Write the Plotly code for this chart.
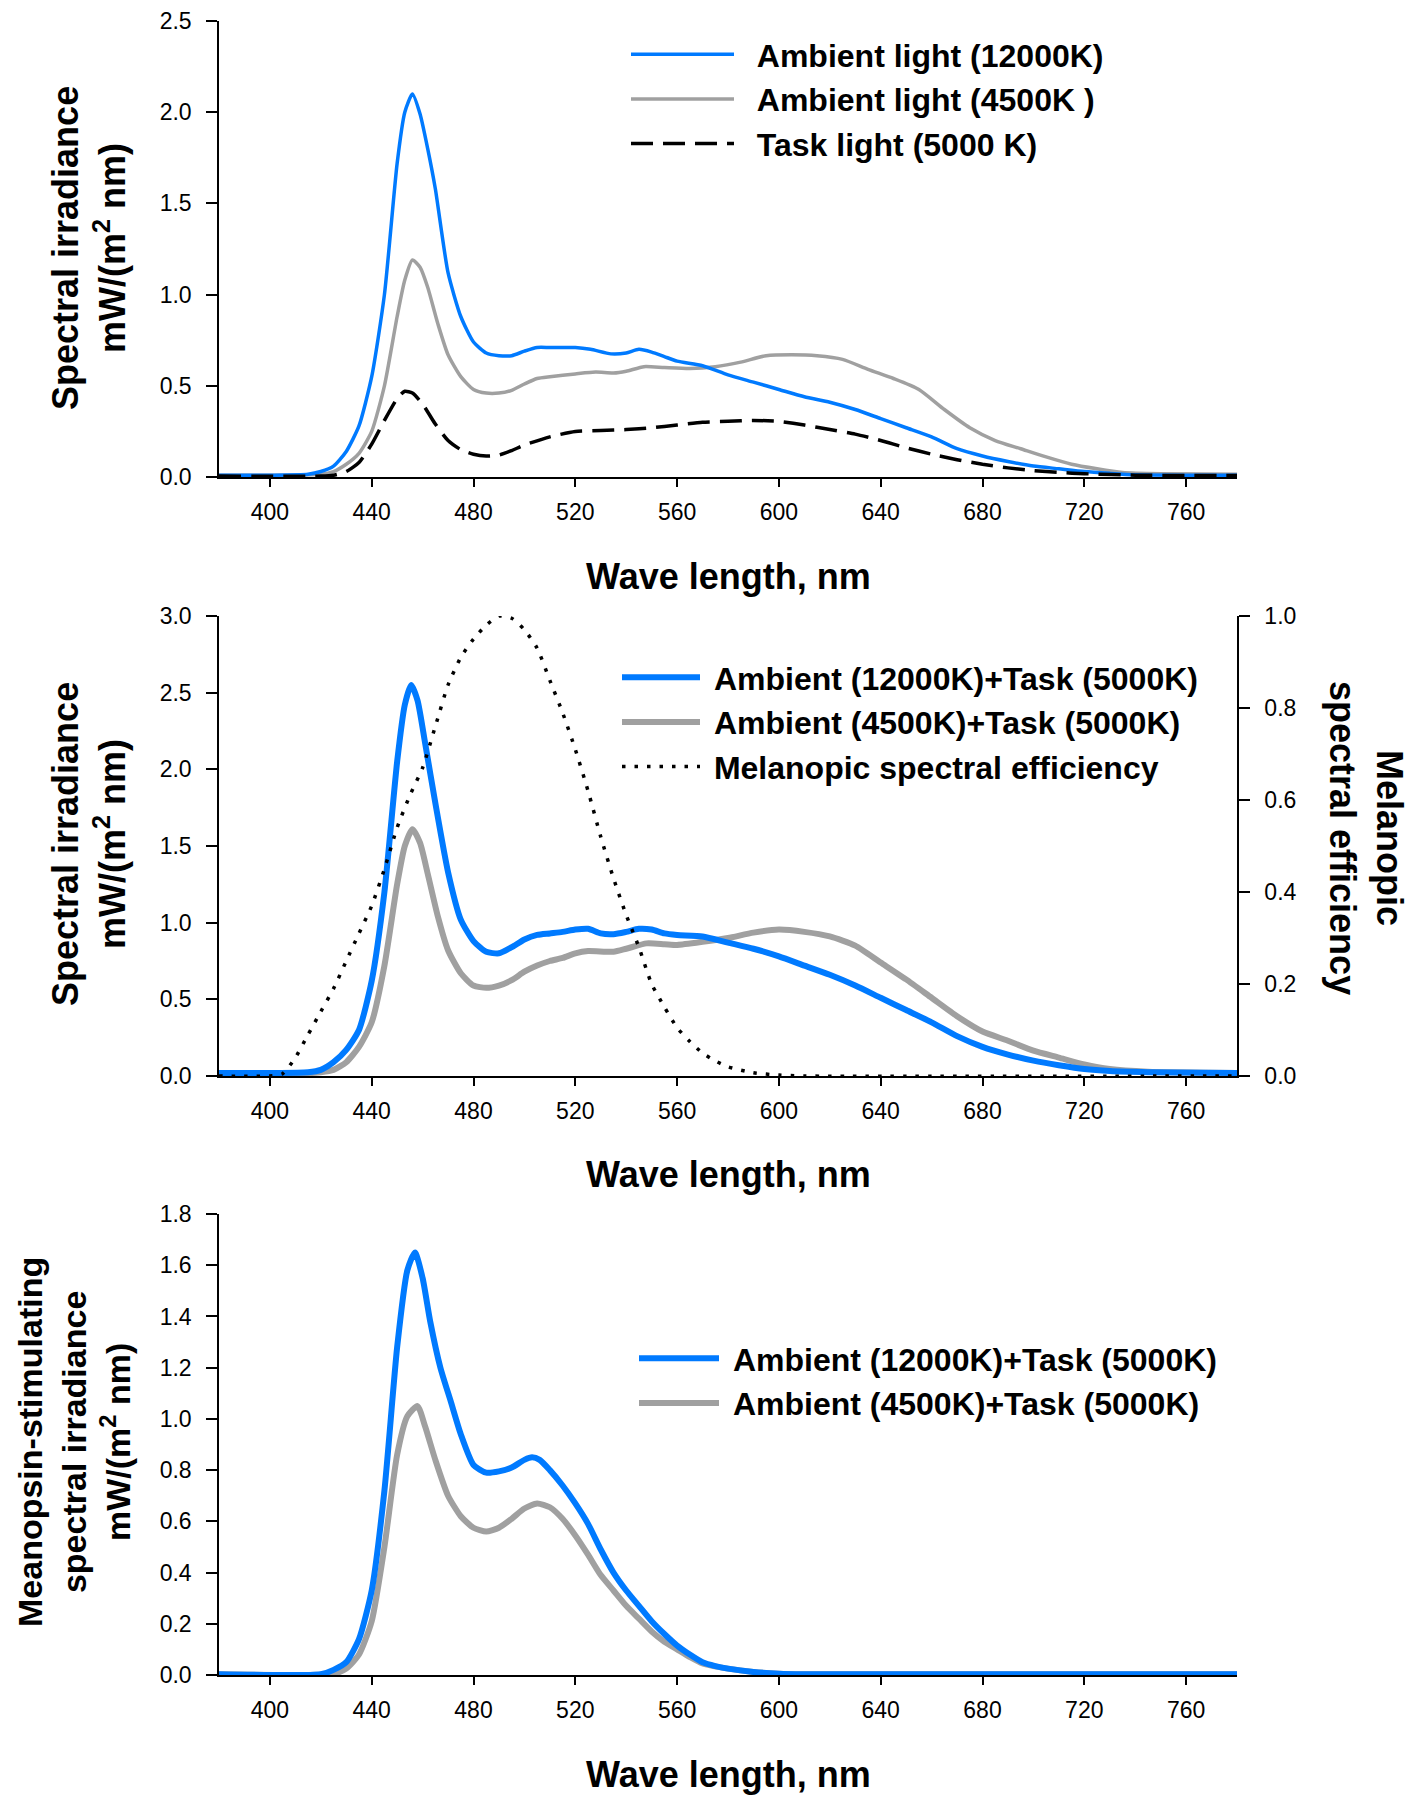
import plotly.graph_objects as go

# ---------------- data ----------------
# Panel 1: individual light sources, mW/(m2 nm)
wl_amb12000 = [380, 400, 415, 420, 425, 430, 435, 440, 445, 450, 453, 456, 459, 462, 465, 470, 475, 480, 485,
               490, 495, 500, 505, 510, 520, 526, 534, 540, 545, 550, 555, 560, 570, 580, 590, 600, 610, 620,
               630, 640, 650, 660, 670, 680, 690, 700, 710, 720, 730, 740, 760, 780]
amb12000 = [0.01, 0.01, 0.015, 0.03, 0.06, 0.14, 0.28, 0.55, 1.0, 1.72, 2.0, 2.10, 1.99, 1.80, 1.58, 1.12, 0.88,
            0.74, 0.68, 0.665, 0.665, 0.69, 0.71, 0.71, 0.71, 0.70, 0.675, 0.68, 0.70, 0.685, 0.66, 0.635, 0.61,
            0.56, 0.52, 0.48, 0.44, 0.41, 0.37, 0.32, 0.27, 0.22, 0.155, 0.115, 0.085, 0.06, 0.045, 0.03, 0.02,
            0.012, 0.01, 0.01]

wl_amb4500 = [380, 400, 420, 425, 430, 435, 440, 445, 450, 453, 456, 459, 462, 466, 470, 475, 480, 485, 490, 495,
              500, 505, 510, 520, 528, 535, 540, 547, 555, 565, 575, 585, 595, 605, 615, 625, 635, 645, 655, 665,
              675, 685, 695, 705, 715, 725, 735, 750, 780]
amb4500 = [0.01, 0.01, 0.015, 0.03, 0.07, 0.13, 0.25, 0.50, 0.88, 1.08, 1.19, 1.15, 1.04, 0.84, 0.67, 0.55, 0.48,
           0.46, 0.46, 0.475, 0.51, 0.54, 0.55, 0.565, 0.575, 0.57, 0.58, 0.605, 0.60, 0.595, 0.605, 0.63, 0.665,
           0.67, 0.665, 0.645, 0.59, 0.54, 0.48, 0.37, 0.27, 0.20, 0.155, 0.11, 0.07, 0.045, 0.025, 0.018, 0.015]

wl_task5000 = [380, 420, 425, 430, 435, 440, 445, 450, 453, 456, 460, 465, 470, 475, 480, 485, 490, 495, 500, 510,
               520, 530, 540, 550, 560, 570, 580, 590, 600, 610, 620, 630, 640, 650, 660, 670, 680, 690, 700, 710,
               720, 740, 780]
task5000 = [0.005, 0.005, 0.01, 0.03, 0.08, 0.18, 0.31, 0.43, 0.47, 0.46, 0.40, 0.29, 0.20, 0.15, 0.125, 0.115,
            0.12, 0.145, 0.175, 0.22, 0.25, 0.255, 0.26, 0.27, 0.285, 0.30, 0.305, 0.31, 0.305, 0.285, 0.26, 0.235,
            0.20, 0.16, 0.125, 0.095, 0.07, 0.05, 0.035, 0.025, 0.018, 0.01, 0.008]

# Panel 2: combined lighting, mW/(m2 nm), and melanopic efficiency (0-1)
wl_sum12000 = [380, 400, 415, 420, 425, 430, 435, 440, 445, 450, 453, 455.5, 458, 461, 465, 470, 475, 480, 485,
               490, 495, 500, 505, 510, 515, 520, 525, 530, 535, 540, 545, 550, 555, 560, 570, 580, 590, 600, 610,
               620, 630, 640, 650, 660, 670, 680, 690, 700, 710, 720, 730, 745, 780]
sum12000 = [0.02, 0.02, 0.025, 0.04, 0.09, 0.17, 0.30, 0.62, 1.20, 2.05, 2.42, 2.55, 2.45, 2.17, 1.78, 1.33, 1.02,
            0.88, 0.81, 0.80, 0.84, 0.89, 0.92, 0.93, 0.94, 0.955, 0.96, 0.93, 0.925, 0.94, 0.96, 0.955, 0.93, 0.92,
            0.91, 0.87, 0.83, 0.78, 0.72, 0.66, 0.59, 0.51, 0.43, 0.35, 0.26, 0.19, 0.14, 0.10, 0.07, 0.045, 0.032,
            0.025, 0.02]

wl_sum4500 = [380, 415, 420, 425, 430, 435, 440, 445, 450, 453, 456, 459, 462, 466, 470, 475, 480, 485, 490, 495,
              500, 505, 510, 515, 520, 525, 535, 540, 548, 555, 560, 570, 580, 590, 600, 610, 620, 630, 640, 650,
              660, 670, 680, 690, 700, 710, 720, 730, 745, 780]
sum4500 = [0.02, 0.02, 0.025, 0.04, 0.09, 0.19, 0.35, 0.72, 1.25, 1.50, 1.61, 1.52, 1.32, 1.04, 0.82, 0.67, 0.59,
           0.575, 0.59, 0.625, 0.68, 0.72, 0.75, 0.77, 0.80, 0.815, 0.81, 0.83, 0.865, 0.86, 0.855, 0.875, 0.90,
           0.935, 0.955, 0.94, 0.91, 0.85, 0.74, 0.63, 0.51, 0.39, 0.29, 0.23, 0.165, 0.12, 0.075, 0.045, 0.028,
           0.02]

wl_melanopic = [380, 400, 405, 410, 415, 420, 425, 430, 435, 440, 445, 450, 455, 460, 465, 470, 475, 480, 485, 490,
                495, 500, 505, 510, 515, 520, 525, 530, 535, 540, 545, 550, 555, 560, 565, 570, 575, 580, 590, 600,
                610, 780]
melanopic = [0, 0, 0.005, 0.04, 0.09, 0.14, 0.19, 0.25, 0.31, 0.37, 0.45, 0.54, 0.61, 0.67, 0.76, 0.85, 0.91,
             0.95, 0.98, 1.0, 0.995, 0.97, 0.93, 0.86, 0.79, 0.71, 0.62, 0.52, 0.43, 0.35, 0.28, 0.20, 0.15, 0.105,
             0.075, 0.05, 0.033, 0.02, 0.007, 0.002, 0, 0]

# Panel 3: melanopsin-stimulating irradiance, mW/(m2 nm)
wl_mel12000 = [380, 420, 425, 430, 435, 440, 445, 450, 454, 457, 460, 463, 467, 471, 475, 480, 485, 490, 495, 500,
               503, 506, 510, 515, 520, 525, 530, 535, 540, 545, 550, 555, 560, 565, 570, 575, 580, 590, 600, 610,
               780]
mel12000 = [0.003, 0.003, 0.02, 0.05, 0.14, 0.33, 0.72, 1.28, 1.58, 1.65, 1.55, 1.38, 1.20, 1.07, 0.94, 0.82, 0.79,
            0.795, 0.81, 0.84, 0.85, 0.84, 0.80, 0.74, 0.67, 0.59, 0.49, 0.40, 0.33, 0.27, 0.21, 0.16, 0.115, 0.08,
            0.05, 0.035, 0.025, 0.012, 0.005, 0.003, 0.003]

wl_mel4500 = [380, 425, 430, 435, 440, 445, 450, 454, 458, 461, 465, 470, 475, 480, 485, 490, 495, 500, 505, 510,
              515, 520, 525, 530, 535, 540, 545, 550, 555, 560, 565, 570, 580, 590, 600, 610, 780]
mel4500 = [0.003, 0.005, 0.025, 0.08, 0.21, 0.50, 0.86, 1.01, 1.05, 0.97, 0.84, 0.70, 0.62, 0.575, 0.56, 0.575,
           0.61, 0.65, 0.67, 0.655, 0.61, 0.545, 0.47, 0.39, 0.33, 0.27, 0.22, 0.17, 0.13, 0.10, 0.07, 0.045, 0.025,
           0.012, 0.005, 0.003, 0.003]

x_ticks = [400, 440, 480, 520, 560, 600, 640, 680, 720, 760]

# ---------------- styling ----------------
PAGE_OFFSET = 8          # default body margin of the html page
W, H = 1418 - 2 * PAGE_OFFSET, 1805 - 2 * PAGE_OFFSET
BLUE = "rgb(0,122,255)"
GRAY = "rgb(160,160,160)"
FONT = "Liberation Sans, Arial, sans-serif"
NB = "\u00a0"


def px_x(p):
    """page pixel -> paper fraction (x)"""
    return (p - PAGE_OFFSET) / W


def px_y(p):
    """page pixel -> paper fraction (y)"""
    return 1 - (p - PAGE_OFFSET) / H


xdom = [px_x(219), px_x(1237)]
dom1 = [px_y(477), px_y(21)]
dom2 = [px_y(1076), px_y(616)]
dom3 = [px_y(1675), px_y(1214)]

fig = go.Figure()

# Panel 1
fig.add_trace(go.Scatter(x=wl_amb4500, y=amb4500, mode="lines", name=NB * 2 + "Ambient light (4500K )",
                         line=dict(color=GRAY, width=3.5, shape="spline", smoothing=0.6),
                         xaxis="x", yaxis="y", legend="legend", legendrank=2))
fig.add_trace(go.Scatter(x=wl_amb12000, y=amb12000, mode="lines", name=NB * 2 + "Ambient light (12000K)",
                         line=dict(color=BLUE, width=3.5, shape="spline", smoothing=0.6),
                         xaxis="x", yaxis="y", legend="legend", legendrank=1))
fig.add_trace(go.Scatter(x=wl_task5000, y=task5000, mode="lines", name=NB * 2 + "Task light (5000 K)",
                         line=dict(color="black", width=3.5, dash="22px,10px", shape="spline", smoothing=0.6),
                         xaxis="x", yaxis="y", legend="legend", legendrank=3))

# Panel 2
fig.add_trace(go.Scatter(x=wl_sum4500, y=sum4500, mode="lines", name=NB + "Ambient (4500K)+Task (5000K)",
                         line=dict(color=GRAY, width=6, shape="spline", smoothing=0.6),
                         xaxis="x2", yaxis="y2", legend="legend2", legendrank=2))
fig.add_trace(go.Scatter(x=wl_sum12000, y=sum12000, mode="lines", name=NB + "Ambient (12000K)+Task (5000K)",
                         line=dict(color=BLUE, width=6, shape="spline", smoothing=0.6),
                         xaxis="x2", yaxis="y2", legend="legend2", legendrank=1))
fig.add_trace(go.Scatter(x=wl_melanopic, y=melanopic, mode="lines", name=NB + "Melanopic spectral efficiency",
                         line=dict(color="black", width=3.5, dash="3.5px,9px", shape="spline", smoothing=0.6),
                         xaxis="x2", yaxis="y3", legend="legend2", legendrank=3))

# Panel 3
fig.add_trace(go.Scatter(x=wl_mel4500, y=mel4500, mode="lines", name=NB + "Ambient (4500K)+Task (5000K)",
                         line=dict(color=GRAY, width=6, shape="spline", smoothing=0.6),
                         xaxis="x3", yaxis="y4", legend="legend3", legendrank=2))
fig.add_trace(go.Scatter(x=wl_mel12000, y=mel12000, mode="lines", name=NB + "Ambient (12000K)+Task (5000K)",
                         line=dict(color=BLUE, width=6, shape="spline", smoothing=0.6),
                         xaxis="x3", yaxis="y4", legend="legend3", legendrank=1))

tickfont = dict(family=FONT, size=23, color="black")
axis_common = dict(showline=True, linecolor="black", linewidth=1.5, showgrid=False, zeroline=False,
                   ticks="outside", tickcolor="black", tickwidth=1.5, tickfont=tickfont, automargin=False,
                   ticklabeloverflow="allow")

xcommon = dict(axis_common, domain=xdom, range=[380, 780], tickvals=x_ticks, ticklen=8,
               ticklabelstandoff=6)
ycommon = dict(axis_common, tickformat=".1f", ticklen=11, ticklabelstandoff=10)

legfont = dict(family=FONT, size=32, color="black", weight="bold")
legcommon = dict(font=legfont, bgcolor="rgba(0,0,0,0)", borderwidth=0, xanchor="left", yanchor="top",
                 traceorder="normal", itemclick=False)

fig.update_layout(
    width=W, height=H,
    margin=dict(l=0, r=0, t=0, b=0, autoexpand=False),
    paper_bgcolor="white", plot_bgcolor="white",
    showlegend=True,
    xaxis=dict(xcommon, anchor="y"),
    yaxis=dict(ycommon, domain=dom1, anchor="x", range=[0, 2.5], dtick=0.5),
    xaxis2=dict(xcommon, anchor="y2"),
    yaxis2=dict(ycommon, domain=dom2, anchor="x2", range=[0, 3.0], dtick=0.5),
    yaxis3=dict(ycommon, domain=dom2, anchor="x2", overlaying="y2", side="right", range=[0, 1.0], dtick=0.2),
    xaxis3=dict(xcommon, anchor="y4"),
    yaxis4=dict(ycommon, domain=dom3, anchor="x3", range=[0, 1.8], dtick=0.2),
    legend=dict(legcommon, x=px_x(626), y=px_y(27), itemwidth=103),
    legend2=dict(legcommon, x=px_x(617), y=px_y(650), itemwidth=78),
    legend3=dict(legcommon, x=px_x(634), y=px_y(1331), itemwidth=80),
)

title_font = dict(family=FONT, size=36, color="black", weight="bold")
title_font3 = dict(family=FONT, size=34, color="black", weight="bold")
annos = []
# x-axis titles
for yc in (576, 1174, 1774):
    annos.append(dict(text="Wave length, nm", x=px_x(728), y=px_y(yc), xref="paper", yref="paper",
                      xanchor="center", yanchor="middle", showarrow=False, font=title_font))
# y-axis titles
annos.append(dict(text="Spectral irradiance<br>mW/(m<sup>2</sup> nm)", x=px_x(89), y=px_y(248),
                  xref="paper", yref="paper", xanchor="center", yanchor="middle", showarrow=False,
                  textangle=-90, font=title_font))
annos.append(dict(text="Spectral irradiance<br>mW/(m<sup>2</sup> nm)", x=px_x(89), y=px_y(844),
                  xref="paper", yref="paper", xanchor="center", yanchor="middle", showarrow=False,
                  textangle=-90, font=title_font))
annos.append(dict(text="Meanopsin-stimulating<br>spectral irradiance<br>mW/(m<sup>2</sup> nm)",
                  x=px_x(74), y=px_y(1442), xref="paper", yref="paper", xanchor="center", yanchor="middle",
                  showarrow=False, textangle=-90, font=title_font3))
annos.append(dict(text="Melanopic<br>spectral efficiency", x=px_x(1366), y=px_y(838),
                  xref="paper", yref="paper", xanchor="center", yanchor="middle", showarrow=False,
                  textangle=90, font=title_font))
fig.update_layout(annotations=annos)

fig.write_html("out.html")
